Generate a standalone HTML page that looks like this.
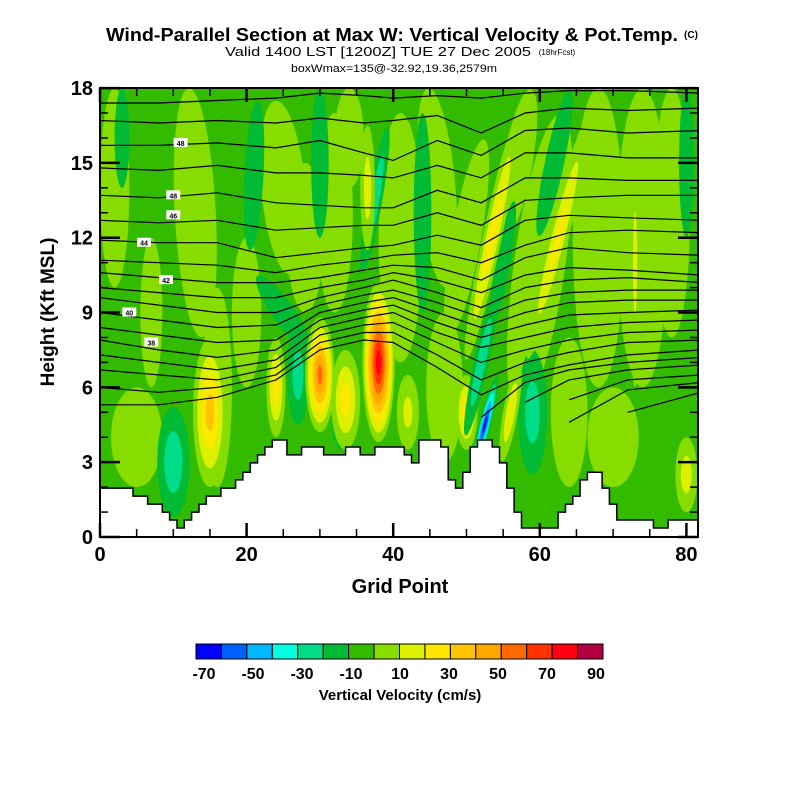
<!DOCTYPE html>
<html><head><meta charset="utf-8"><style>
html,body{margin:0;padding:0;background:#fff;}
svg{display:block;font-family:"Liberation Sans",sans-serif;}
</style></head><body>
<svg id="chart" width="800" height="800" viewBox="0 0 800 800">
<rect width="800" height="800" fill="#fff"/>
<text x="392" y="41" font-size="18" font-weight="bold" text-anchor="middle" textLength="572" lengthAdjust="spacingAndGlyphs">Wind-Parallel Section at Max W: Vertical Velocity &amp; Pot.Temp.</text>
<text x="691" y="38" font-size="10" font-weight="bold" text-anchor="middle">(C)</text>
<text x="378" y="56" font-size="13" text-anchor="middle" textLength="306" lengthAdjust="spacingAndGlyphs">Valid 1400 LST [1200Z] TUE 27 Dec 2005</text>
<text x="557" y="55" font-size="8" text-anchor="middle">(18hrFcst)</text>
<text x="394" y="72" font-size="11" text-anchor="middle" textLength="206" lengthAdjust="spacingAndGlyphs">boxWmax=135@-32.92,19.36,2579m</text>
<defs><clipPath id="plotclip"><rect x="100" y="88" width="598" height="449"/></clipPath></defs>
<g id="plot" clip-path="url(#plotclip)"></g>
<g id="axes"></g>
<text x="400" y="593" font-size="20" font-weight="bold" text-anchor="middle">Grid Point</text>
<text transform="translate(54,312) rotate(-90)" font-size="19" font-weight="bold" text-anchor="middle">Height (Kft MSL)</text>
<g id="cbar"></g>
<text x="400" y="700" font-size="15" font-weight="bold" text-anchor="middle">Vertical Velocity (cm/s)</text>
</svg>
<script>
var NS='http://www.w3.org/2000/svg';
// ---- data ----
var levelColors=['#0000ff','#0060ff','#00b8ff','#00ffe0','#00dd88','#00bb33','#33bb00','#88dd00','#ddf000','#ffe800','#ffc400','#ffa800','#ff6a00','#ff3300','#ff0010','#b00040'];
var cbarLabels=['-70','-50','-30','-10','10','30','50','70','90'];
var xTicks=[0,20,40,60,80];
var yTicks=[0,3,6,9,12,15,18];
var terrain=[1.96,1.96,1.96,1.96,1.96,1.64,1.64,1.32,1.32,1.0,0.68,0.36,0.68,1.0,1.32,1.64,1.64,1.96,1.96,2.29,2.6,2.97,3.29,3.61,3.89,3.89,3.29,3.29,3.61,3.61,3.61,3.29,3.29,3.29,3.61,3.61,3.29,3.29,3.61,3.61,3.61,3.61,3.29,2.97,3.89,3.89,3.89,3.61,2.29,1.96,2.6,3.61,3.89,3.89,3.61,2.97,1.96,1.0,0.36,0.36,0.36,0.36,0.36,1.0,1.32,1.64,2.29,2.6,2.6,1.96,1.32,0.68,0.68,0.68,0.68,0.68,0.36,0.36,0.68,0.68,0.68,0.68,0.68];
// velocity features: grid x, height kft, half-width (grid), half-height (kft), peak w (cm/s), tilt
var featX=[2,7,13,16,25,32,34,41,46,60,68,74,78,64,70,5,47,28,50,20,57, 21,3,30,44,59,62,80,10,27,33,25,37.5,55, 15,24,33.5,42,50,53.5,62.5,56,36.5,80,73,30,38,52,52.5];
var featZ=[14,9,13,6,14,13,16,12,14,11,12,12,13,5,4,4,6,12,12,9,15, 14.5,16,15,13,5,15,15,3,6.5,5,9,13.5,11, 5,6,5.5,5,5,12,12,5,14,2.5,11,6.5,7,7,4.5];
var featW=[2,1.5,2.8,2,3,2.5,2,3,2.5,3.5,3.5,3.5,2.5,2.5,3.5,3.5,2.5,2.5,2,2,2, 1.3,1,1.2,1.2,2,1.3,1,2.2,1.5,1.5,1.5,1,1, 2.3,1.3,2,1.5,1.5,1.3,1.4,1,1,1.5,0.7,2,2.2,1,0.8];
var featH=[4,3,5,4,3.5,4,2,5,4,6,6,6,5,3,2,2,3,3,4,3,3, 3,2,3,4,2.5,3,3,2.2,2,1.5,1.8,3,2.5, 3,2,2,1.5,1.5,5,5,2,2.5,1.5,5,2.3,3.2,3,2];
var featV=[8,8,8,8,8,8,8,8,8,8,8,8,8,8,8,8,8,8,8,8,8, -15,-12,-12,-15,-25,-14,-14,-28,-25,-15,-15,-30,-15, 35,25,25,12,30,25,22,20,15,15,12,55,78,-30,-65];
var featTilt=[0,0,-3,0,-5,0,0,0,-5,8,0,0,0,0,0,0,0,0,10,0,10, 3,0,0,0,0,12,0,0,0,0,-35,10,10, 0,0,0,0,0,12,14,10,0,0,0,0,0,12,14];
// potential temperature isentropes: heights (kft) at node grid points
var thetaNodes=[0,8,16,24,30,36,40,46,52,58,64,72,82];
var thetaLines=[
[17.4,17.4,17.5,17.6,17.8,17.7,17.6,17.7,17.6,17.8,17.9,17.9,17.8],
[16.7,16.6,16.7,16.6,16.8,16.6,16.7,16.9,16.2,17.0,17.2,17.1,17.2],
[15.7,15.7,15.8,15.6,15.9,15.4,15.1,15.9,15.3,16.3,16.4,16.2,16.3],
[14.8,14.7,14.9,14.6,14.6,14.5,14.4,14.9,14.4,15.4,15.4,15.2,15.2],
[13.7,13.6,13.8,13.4,13.3,13.2,13.2,13.9,13.4,14.4,14.4,14.3,14.3],
[12.7,12.6,12.7,12.3,12.4,12.5,12.5,13.0,12.5,13.5,13.6,13.7,13.7],
[11.9,11.8,11.8,11.2,11.4,11.6,11.7,12.1,11.7,12.7,12.9,12.8,12.7],
[11.1,11.0,10.9,10.6,10.9,11.1,11.3,11.4,11.0,11.7,12.2,12.3,12.2],
[10.6,10.4,10.2,10.2,10.4,10.7,10.9,10.8,10.3,11.2,11.6,11.4,11.3],
[10.0,9.8,9.6,9.6,10.0,10.3,10.6,10.3,9.8,10.5,10.8,10.7,10.5],
[9.6,9.3,9.0,9.0,9.6,10.0,10.3,9.8,9.2,10.0,10.3,10.4,10.2],
[9.0,8.7,8.4,8.5,9.3,9.7,9.9,9.4,8.8,9.5,9.8,9.9,9.9],
[8.4,8.1,7.8,7.9,9.0,9.4,9.6,9.0,8.4,9.0,9.4,9.5,9.5],
[7.9,7.5,7.2,7.5,8.7,9.1,9.3,8.6,8.0,8.5,8.9,9.0,9.1],
[7.3,7.0,6.7,7.1,8.4,8.8,9.0,8.2,7.6,8.0,8.4,8.6,8.7],
[6.7,6.5,6.3,6.8,8.1,8.5,8.6,7.8,7.0,7.5,7.9,8.2,8.3],
[6.0,5.8,6.0,6.5,7.8,8.2,8.2,7.3,6.3,7.0,7.4,7.8,7.9],
[5.3,5.3,5.6,6.3,7.5,7.9,7.8,6.8,5.7,6.5,6.9,7.3,7.5],
[null,null,null,null,null,null,null,null,4.8,6.2,6.7,7.0,7.2],
[null,null,null,null,null,null,null,null,null,5.4,6.3,6.7,6.9],
[null,null,null,null,null,null,null,null,null,null,5.5,6.3,6.5],
[null,null,null,null,null,null,null,null,null,null,4.6,5.9,6.2],
[null,null,null,null,null,null,null,null,null,null,null,5.0,5.8]
];
var thetaLabels=['48','48','46','44','42','40','38'];
var labelX=[11,10,10,6,9,4,7];
var labelZ=[15.8,13.7,12.9,11.8,10.3,9.0,7.8];
// ---- axis functions ----
function X(g){return 100+g*7.33;}
function Y(z){return 537-z*24.94;}
function el(t,a,p){var e=document.createElementNS(NS,t);for(var k in a)e.setAttribute(k,a[k]);(p||document.getElementById('plot')).appendChild(e);return e;}
var plot=document.getElementById('plot');
var bg=el('rect',{x:100,y:88,width:598,height:449,fill:levelColors[6]});


function colorIdx(w){var i=Math.floor((w+70)/10);return Math.max(0,Math.min(15,i));}
for(var f=0;f<featX.length;f++){
  var v=featV[f],cx=X(featX[f]),cy=Y(featZ[f]),rx=featW[f]*7.33,ry=featH[f]*24.94;
  var g=el('g',{transform:'rotate('+featTilt[f]+' '+cx+' '+cy+')'});
  
  
  if(v>0){for(var b=0;b<v;b+=10){var s=1-b/(v+5);var e=el('ellipse',{cx:cx,cy:cy,rx:rx*s,ry:ry*s,fill:levelColors[colorIdx(b+1)]},g);}}
  else{var a=-v;for(var b2=10;b2<a;b2+=10){var s2=1-(b2-10)/(a-5);var e2=el('ellipse',{cx:cx,cy:cy,rx:rx*s2,ry:ry*s2,fill:levelColors[colorIdx(-b2-1)]},g);}}
}
// isentropes
for(var i=0;i<thetaLines.length;i++){
  var d='',pen=false;
  for(var j=0;j<thetaNodes.length;j++){var z=thetaLines[i][j];if(z===null){pen=false;continue;}d+=(pen?'L':'M')+X(thetaNodes[j]).toFixed(1)+' '+Y(z).toFixed(1);pen=true;}
  var pl=el('path',{d:d,fill:'none',stroke:'#000','stroke-width':1.2});
  
  
}
for(var k=0;k<thetaLabels.length;k++){
  var lx=X(labelX[k]),ly=Y(labelZ[k]);
  var r=el('rect',{x:lx-7,y:ly-5,width:14,height:9,fill:'#fff'});
  
  
  var t=el('text',{x:lx,y:ly+3,'font-size':7,'font-weight':'bold','text-anchor':'middle'});t.textContent=thetaLabels[k];
  
  
}
// terrain
var td='M'+X(-0.5)+' '+Y(0)+' ';
for(var g2=0;g2<terrain.length;g2++){td+='L'+X(g2-0.5).toFixed(1)+' '+Y(terrain[g2]).toFixed(1)+' L'+X(g2+0.5).toFixed(1)+' '+Y(terrain[g2]).toFixed(1)+' ';}
td+='L'+X(terrain.length)+' '+Y(0)+' Z';
var ter=el('path',{d:td,fill:'#fff',stroke:'#000','stroke-width':1.5});


// axes
var ax=document.getElementById('axes');
var fr=el('rect',{x:100,y:88,width:598,height:449,fill:'none',stroke:'#000','stroke-width':2},ax);


for(var m=0;m<=81;m+=5){var maj=(m%20===0),L=maj?14:8;
  var t1=el('line',{x1:X(m),x2:X(m),y1:537,y2:537-L,stroke:'#000','stroke-width':maj?2.5:1.5},ax);
  var t2=el('line',{x1:X(m),x2:X(m),y1:88,y2:88+L,stroke:'#000','stroke-width':maj?2.5:1.5},ax);}
for(var q=0;q<=18;q++){var mj=(q%3===0),L2=mj?20:8;
  var u1=el('line',{x1:100,x2:100+L2,y1:Y(q),y2:Y(q),stroke:'#000','stroke-width':mj?2.5:1.5},ax);
  var u2=el('line',{x1:698,x2:698-L2,y1:Y(q),y2:Y(q),stroke:'#000','stroke-width':mj?2.5:1.5},ax);}
for(var a1=0;a1<xTicks.length;a1++){var tx=el('text',{x:X(xTicks[a1]),y:561,'font-size':20,'font-weight':'bold','text-anchor':'middle'},ax);tx.textContent=xTicks[a1];}
for(var a2=0;a2<yTicks.length;a2++){var ty=el('text',{x:93,y:Y(yTicks[a2])+7,'font-size':20,'font-weight':'bold','text-anchor':'end'},ax);ty.textContent=yTicks[a2];}
// colorbar
var cb=document.getElementById('cbar');
var bw=(603-196)/levelColors.length;
for(var c=0;c<levelColors.length;c++){var cr=el('rect',{x:196+c*bw,y:644,width:bw,height:15,fill:levelColors[c],stroke:'#000','stroke-width':1},cb);}
for(var c2=0;c2<cbarLabels.length;c2++){var cl=el('text',{x:204+c2*49,y:679,'font-size':16,'font-weight':'bold','text-anchor':'middle'},cb);cl.textContent=cbarLabels[c2];}
</script>
</body></html>
